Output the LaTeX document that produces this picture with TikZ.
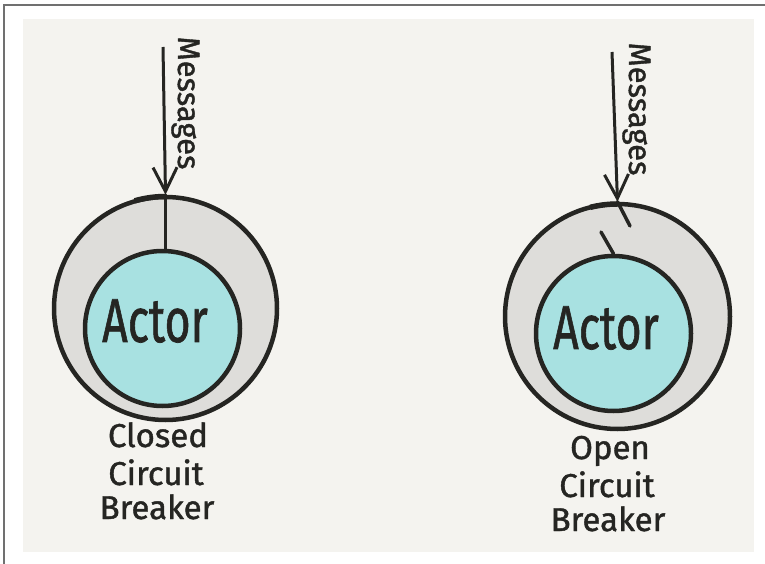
\documentclass[tikz,border=0pt]{standalone}
\usepackage{fontspec}
\newfontfamily\hand{Fira Sans}[FakeBold=1.2]
\usetikzlibrary{arrows.meta}
\definecolor{panel}{HTML}{F4F3EF}
\definecolor{ringc}{HTML}{DEDDDA}
\definecolor{actorc}{HTML}{A8E1E1}
\definecolor{ink}{HTML}{252522}
\definecolor{framec}{HTML}{707070}
\begin{document}
\begin{tikzpicture}[x=1pt,y=-1pt,
  ringnode/.style={circle, draw=ink, line width=4.5pt, fill=ringc, inner sep=0pt},
  actornode/.style={circle, draw=ink, line width=4.5pt, fill=actorc, inner sep=0pt, minimum size=155pt},
  actortext/.style={font=\hand\fontsize{62}{70}\selectfont, text=ink, xscale=0.72, inner sep=0pt},
  wire/.style={draw=ink, line width=3.5pt, line cap=round},
  msgarrow/.style={draw=ink, line width=3pt, -{Straight Barb[length=24pt,width=24pt,line width=3pt]}},
  msgtext/.style={font=\hand\fontsize{31}{34}\selectfont, text=ink, rotate=-90, anchor=base, inner sep=0pt},
  labeltext/.style={font=\hand\fontsize{33}{36}\selectfont, text=ink, anchor=base, inner sep=0pt}
]
\useasboundingbox (0,0) rectangle (765,564);
\fill[white] (0,0) rectangle (765,564);
\draw[framec, line width=2pt] (4,564) -- (4,5) -- (765,5);
\fill[panel] (23,19) rectangle (754,552);

% left: closed
\node[ringnode, minimum size=223pt] (oL) at (165.5,308.5) {};
\node[actornode] (iL) at (162.5,328.5) {};
\node[actortext] (aL) at (155,321) {Actor};
\draw[ink, line width=5.5pt] ([shift={(270:112)}]oL.center) arc[start angle=270, end angle=254, radius=112];
\coordinate (mL) at (163,47);
\draw[msgarrow] (mL) -- (oL.north);
\draw[wire] (oL.north) -- (oL.north |- iL.north);
\node[msgtext] (tL) at (178,103) {Messages};
\node[labeltext] (cL1) at (158,447) {Closed};
\node[labeltext] (cL2) at (156,485) {Circuit};
\node[labeltext] (cL3) at (157,519) {Breaker};

% right: open
\node[ringnode, minimum size=225pt] (oR) at (617.5,316.5) {};
\node[actornode] (iR) at (613.5,333.5) {};
\node[actortext] (aR) at (606,328) {Actor};
\draw[ink, line width=5.5pt] ([shift={(270:112.5)}]oR.center) arc[start angle=270, end angle=256, radius=112.5];
\coordinate (mR) at (612,52);
\draw[msgarrow] (mR) -- (oR.north);
\coordinate (swR1) at (630,226);
\coordinate (swR2) at (601,232);
\draw[wire] (oR.north) -- (swR1);
\draw[wire] (swR2) -- (iR.north);
\node[msgtext] (tR) at (629,109) {Messages};
\node[labeltext] (oR1) at (610,459) {Open};
\node[labeltext] (oR2) at (607,497) {Circuit};
\node[labeltext] (oR3) at (608,531) {Breaker};
\end{tikzpicture}
\end{document}
